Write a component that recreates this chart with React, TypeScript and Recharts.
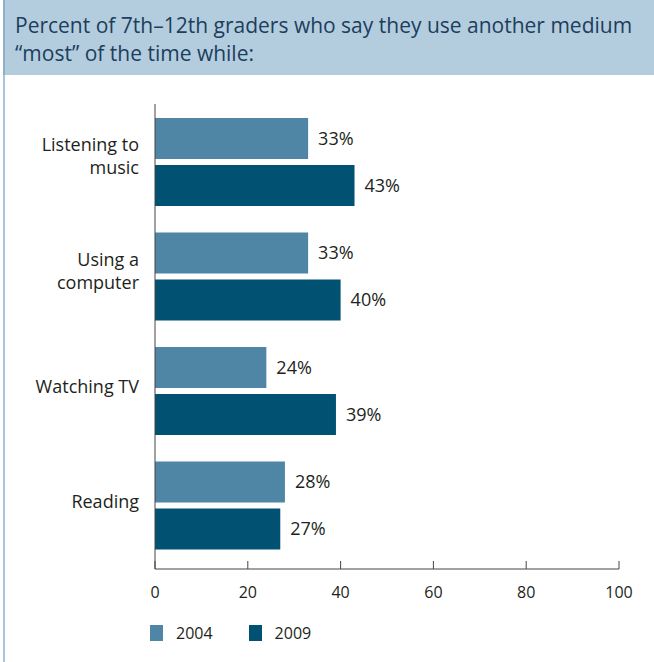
import React from 'react';
import { BarChart, Bar, XAxis, YAxis, LabelList } from 'recharts';

const categories = ['Listening to\nmusic', 'Using a\ncomputer', 'Watching TV', 'Reading'];
const values2004 = [33, 33, 24, 28];
const values2009 = [43, 40, 39, 27];
const xTicks = [0, 20, 40, 60, 80, 100];
const legendItems = [
  { label: '2004', color: '#4f85a5' },
  { label: '2009', color: '#005172' },
];

const data = categories.map((c, i) => ({
  name: c,
  y2004: values2004[i],
  y2009: values2009[i],
}));

const FONT = '"Open Sans", sans-serif';
const TEXT = '#231f20';

// baseline offsets from the band centre
function CategoryTick({ x, y, payload }: any) {
  const lines = String(payload.value).split('\n');
  const baselines = lines.length > 1 ? [-11, 12] : [2];
  return (
    <g>
      {lines.map((l, i) => (
        <text
          key={i}
          x={x - 16}
          y={y + baselines[i]}
          textAnchor="end"
          fontSize={18}
          fontFamily={FONT}
          fill={TEXT}
        >
          {l}
        </text>
      ))}
    </g>
  );
}

function ValueTick({ x, y, payload }: any) {
  return (
    <g>
      <line x1={x} x2={x} y1={y - 8} y2={y} stroke="#444" strokeWidth={1} />
      <text x={x} y={y + 29} textAnchor="middle" fontSize={16} fontFamily={FONT} fill={TEXT}>
        {payload.value}
      </text>
    </g>
  );
}

export default function App() {
  return (
    <div style={{ position: 'absolute', left: 0, top: 0, width: 654, height: 662, background: '#fff', overflow: 'hidden' }}>
      <div style={{ position: 'absolute', left: 3, top: 0, width: 651, height: 662, borderLeft: '2px solid #a9c4d8' }} />
      <div
        style={{
          position: 'absolute',
          left: 3,
          top: 0,
          width: 651,
          height: 75,
          background: '#b3cddf',
          borderLeft: '2px solid #8fb0c8',
          boxSizing: 'border-box',
          padding: '11px 0 0 10px',
          fontFamily: FONT,
          fontSize: 21,
          lineHeight: '28px',
          color: '#1d3e5c',
          whiteSpace: 'nowrap',
        }}
      >
        Percent of 7th–12th graders who say they use another medium
        <br />
        “most” of the time while:
      </div>
      <div style={{ position: 'absolute', left: 0, top: 0 }}>
        <BarChart
          width={654}
          height={662}
          data={data}
          layout="vertical"
          margin={{ top: 104, right: 35, bottom: 63, left: 5 }}
          barSize={41}
          barGap={6}
        >
          <XAxis
            type="number"
            domain={[0, 100]}
            ticks={xTicks}
            tick={<ValueTick />}
            tickLine={false}
            tickSize={0}
            tickMargin={0}
            axisLine={{ stroke: '#444', strokeWidth: 1 }}
            height={30}
          />
          <YAxis
            type="category"
            dataKey="name"
            width={150}
            padding={{ top: 1, bottom: 6 }}
            tick={<CategoryTick />}
            tickLine={false}
            tickSize={0}
            tickMargin={0}
            axisLine={{ stroke: '#444', strokeWidth: 1 }}
          />
          <Bar dataKey="y2004" name="2004" fill="#4f85a5" isAnimationActive={false}>
            <LabelList dataKey="y2004" position="right" offset={10} formatter={(v: any) => `${v}%`} fontSize={18} fontFamily={FONT} fill={TEXT} />
          </Bar>
          <Bar dataKey="y2009" name="2009" fill="#005172" isAnimationActive={false}>
            <LabelList dataKey="y2009" position="right" offset={10} formatter={(v: any) => `${v}%`} fontSize={18} fontFamily={FONT} fill={TEXT} />
          </Bar>
        </BarChart>
      </div>
      <div style={{ position: 'absolute', left: 150, top: 622, display: 'flex', fontFamily: FONT, fontSize: 16, color: TEXT }}>
        {legendItems.map((it) => (
          <div key={it.label} style={{ display: 'flex', alignItems: 'center', marginRight: 36 }}>
            <span style={{ width: 13, height: 16, background: it.color, display: 'inline-block', marginRight: 13 }} />
            <span>{it.label}</span>
          </div>
        ))}
      </div>
    </div>
  );
}
